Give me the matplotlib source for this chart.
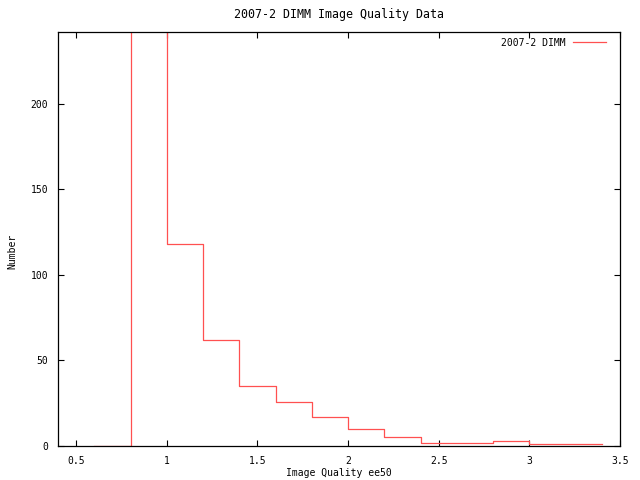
import matplotlib
matplotlib.use('agg')
import matplotlib.pyplot as plt

# histogram of ee50 in 0.2 bins (gnuplot "with steps" style)
edges = [0.6, 0.8, 1.0, 1.2, 1.4, 1.6, 1.8, 2.0, 2.2, 2.4, 2.6, 2.8, 3.0, 3.2, 3.4]
counts = [0, 300, 118, 62, 35, 26, 17, 10, 5, 2, 2, 3, 1, 1, 1]
xticks = [0.5, 1, 1.5, 2, 2.5, 3, 3.5]
xticklabels = ['0.5', '1', '1.5', '2', '2.5', '3', '3.5']
yticks = [0, 50, 100, 150, 200]

plt.rcParams['font.family'] = ['DejaVu Sans Mono']
plt.rcParams['font.size'] = 7

fig = plt.figure(figsize=(6.4, 4.8), dpi=100)
ax = fig.add_axes([58 / 640, 1 - 446 / 480, 562 / 640, 414 / 480])

ax.step(edges, counts, where='post', color='#ff5050', lw=0.9, label='2007-2 DIMM')

ax.set_xlim(0.4, 3.5)
ax.set_ylim(0, 242)
ax.set_xticks(xticks)
ax.set_xticklabels(xticklabels)
ax.set_yticks(yticks)
ax.tick_params(direction='in', length=4, width=0.8, top=True, right=True, pad=7)
for s in ax.spines.values():
    s.set_linewidth(0.9)

ax.set_title('2007-2 DIMM Image Quality Data', pad=10)
ax.set_xlabel('Image Quality ee50', labelpad=2)
ax.set_ylabel('Number')
ax.yaxis.set_label_coords(-0.072, 0.47)

ax.legend(loc='upper right', bbox_to_anchor=(0.988, 1.003), frameon=False,
          markerfirst=False, handlelength=3.4, borderaxespad=0.3, handletextpad=0.8)

fig.savefig('out.png', dpi=100)
